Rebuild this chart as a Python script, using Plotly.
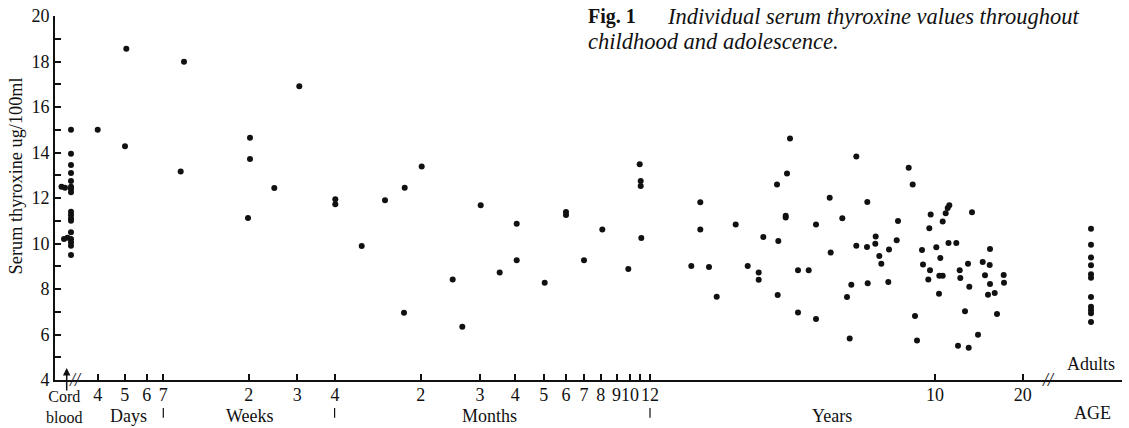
import plotly.graph_objects as go

# ---- data: position on the (compressed, hand-drawn) age scale, and serum T4 (ug/100ml)
cord_age = [71, 71, 71, 71, 71, 71, 71, 71, 71, 71, 71, 71, 71, 71, 71, 71, 71, 61.5, 65, 64, 67.5]
cord_t4 = [15.0, 13.95, 13.45, 13.1, 12.75, 12.5, 12.4, 12.25, 11.4, 11.25, 11.1, 11.0, 10.5, 10.2, 10.05, 9.9, 9.5,
           12.5, 12.45, 10.2, 10.25]

infant_age = [97.7, 126.3, 125, 184, 180.7, 250, 250, 248, 274.3, 299.3, 335.3, 335.3]
infant_t4 = [15.0, 18.56, 14.27, 17.99, 13.16, 14.65, 13.71, 11.12, 12.44, 16.91, 11.94, 11.72]

months_age = [361.7, 385, 404.7, 404, 421.7, 452.7, 462.3, 480.7, 499.7, 516.7, 516.7, 544.7, 566, 566,
              584, 602.3, 628.3, 639.7, 640.7, 640.7, 641.3]
months_t4 = [9.89, 11.9, 12.45, 6.96, 13.38, 8.42, 6.34, 11.68, 8.72, 10.87, 9.26, 8.28, 11.38, 11.25,
             9.26, 10.62, 8.88, 13.48, 12.75, 12.53, 10.24]

years_age = [691.3, 700.3, 700.3, 709, 716.7, 735.7, 747.7, 758.7, 758.7, 763.3, 777, 777.7, 778.3, 785.7,
             785.7, 787, 790, 798, 798, 808.7, 816, 816, 829.7, 830.7, 842.3, 847, 851.3, 849.7, 856.3,
             856.3, 867, 867.3, 867.7, 875.3, 875.7, 879.3, 881.3, 889, 888.3, 896.7, 898, 908.7, 912.7,
             915, 917, 922, 923, 929.3, 930.7, 930, 928.3, 936.3, 940.3, 939, 939.3, 942.7, 942.7, 945.7,
             947.7, 949.3, 948.5, 956.3, 958, 959.7, 960.3, 965, 968.7, 968, 969.3, 972, 978, 982.7, 985,
             990, 989.7, 990, 988, 994.7, 997, 1003.7, 1004]
years_t4 = [9.01, 11.81, 10.61, 8.97, 7.66, 10.83, 9.01, 8.72, 8.41, 10.29, 12.59, 7.74, 10.11, 11.22,
            11.14, 13.08, 14.62, 8.82, 6.97, 8.82, 10.83, 6.68, 12.01, 9.6, 11.11, 7.65, 8.19, 5.82, 13.82,
            9.9, 9.85, 11.82, 8.25, 9.99, 10.31, 9.45, 9.11, 9.74, 8.31, 10.14, 10.99, 13.33, 12.59,
            6.81, 5.74, 9.71, 9.08, 10.67, 11.28, 8.82, 8.42, 9.83, 9.36, 7.79, 8.58, 8.58, 10.97, 11.33,
            11.56, 11.68, 10.02, 10.02, 5.51, 8.82, 8.48, 7.02, 5.42, 9.11, 8.10, 11.37, 5.99, 9.19, 8.6,
            9.76, 9.05, 8.22, 7.75, 7.82, 6.9, 8.62, 8.28]

adults_age = [1091] * 11
adults_t4 = [10.65, 9.95, 9.38, 9.04, 8.65, 8.5, 7.65, 7.22, 7.08, 6.93, 6.55]

# ---- axis ticks
x_tick_pos = [97.7, 124.7, 146.7, 163.3, 248.7, 297.3, 335, 420.7, 480, 515.3, 543.7, 566, 584, 600.7,
              616.5, 630, 640, 650, 935, 1022.7]
x_tick_text = ["4", "5", "6", "7", "2", "3", "4", "2", "3", "4", "5", "6", "7", "8",
               "9", "10", "", "12", "10", "20"]
y_tick_vals = list(range(4, 21))
y_tick_text = [str(v) if v % 2 == 0 else "" for v in y_tick_vals]

# ---- text labels
unit_labels = ["Days", "Weeks", "Months", "Years", "AGE"]
unit_label_pos = [128, 250, 489, 832, 1092]
boundary_pos = [163.3, 334.6, 650]
title_lead = "Fig. 1"
title_line1 = "Individual serum thyroxine values throughout"
title_line2 = "childhood and adolescence."
y_title = "Serum thyroxine ug/100ml"

SERIF = "Liberation Serif"
BLACK = "#111111"

all_x = cord_age + infant_age + months_age + years_age + adults_age
all_y = cord_t4 + infant_t4 + months_t4 + years_t4 + adults_t4

fig = go.Figure()
fig.add_trace(go.Scatter(x=all_x, y=all_y, mode="markers",
                         marker=dict(size=6, color=BLACK, line=dict(width=0)),
                         cliponaxis=False, showlegend=False))

ann = []
for t, xp in zip(unit_labels, unit_label_pos):
    ann.append(dict(x=xp, y=-0.099 if t != "AGE" else -0.092, xref="x", yref="paper", text=t,
                    showarrow=False, font=dict(family=SERIF, size=18, color=BLACK),
                    xanchor="center", yanchor="middle"))
ann.append(dict(x=64, y=-0.0742, xref="x", yref="paper", text="Cord<br>blood", showarrow=False,
                font=dict(family=SERIF, size=16, color=BLACK), xanchor="center", yanchor="middle"))
ann.append(dict(x=1091, y=4.72, xref="x", yref="y", text="Adults", showarrow=False,
                font=dict(family=SERIF, size=18, color=BLACK), xanchor="center", yanchor="middle"))
# axis break marks
for xp in [75.5, 1048]:
    ann.append(dict(x=xp, y=4.0, xref="x", yref="y", text="<i>//</i>", showarrow=False,
                    font=dict(family=SERIF, size=18, color=BLACK), xanchor="center", yanchor="middle"))
# cord blood arrow
ann.append(dict(x=66.7, y=0.033, xref="x", yref="paper", ax=0, ay=24, axref="pixel", ayref="pixel",
                text="", showarrow=True, arrowhead=2, arrowsize=1, arrowwidth=1.5, arrowcolor=BLACK))
# title
ann.append(dict(x=586, y=19.96, xref="x", yref="y", text="<b>" + title_lead + "</b>", showarrow=False,
                font=dict(family=SERIF, size=20, color=BLACK), xanchor="left", yanchor="middle"))
ann.append(dict(x=665, y=19.96, xref="x", yref="y", text="<i>" + title_line1 + "</i>", showarrow=False,
                font=dict(family=SERIF, size=22.5, color=BLACK), xanchor="left", yanchor="middle"))
ann.append(dict(x=586, y=18.9, xref="x", yref="y", text="<i>" + title_line2 + "</i>", showarrow=False,
                font=dict(family=SERIF, size=22.5, color=BLACK), xanchor="left", yanchor="middle"))
# y axis title
ann.append(dict(x=-0.0366, y=0.562, xref="paper", yref="paper", text=y_title, textangle=-90,
                showarrow=False, font=dict(family=SERIF, size=18.3, color=BLACK),
                xanchor="center", yanchor="middle"))

# short vertical marks below the age-unit boundaries
shapes = [dict(type="line", xref="x", yref="paper", x0=xp, x1=xp, y0=-0.077, y1=-0.104,
               line=dict(color=BLACK, width=1.2)) for xp in boundary_pos]

fig.update_layout(
    width=1129, height=428,
    margin=dict(l=55, r=7, t=16, b=48),
    paper_bgcolor="white", plot_bgcolor="white",
    annotations=ann, shapes=shapes,
    xaxis=dict(range=[55, 1122], tickmode="array", tickvals=x_tick_pos, ticktext=x_tick_text,
               tickangle=0, ticklabelstandoff=-3,
               ticks="inside", ticklen=6, tickwidth=1.5, tickcolor=BLACK,
               showline=True, linewidth=2, linecolor=BLACK, showgrid=False, zeroline=False,
               tickfont=dict(family=SERIF, size=18, color=BLACK)),
    yaxis=dict(range=[4, 20], tickmode="array", tickvals=y_tick_vals, ticktext=y_tick_text,
               ticks="inside", ticklen=6, tickwidth=1.5, tickcolor=BLACK,
               showline=True, linewidth=2, linecolor=BLACK, showgrid=False, zeroline=False,
               tickfont=dict(family=SERIF, size=18, color=BLACK)),
)

fig.write_html("out.html", config={"displayModeBar": False},
               post_script="document.body.style.margin='0';document.body.style.overflow='hidden';")
